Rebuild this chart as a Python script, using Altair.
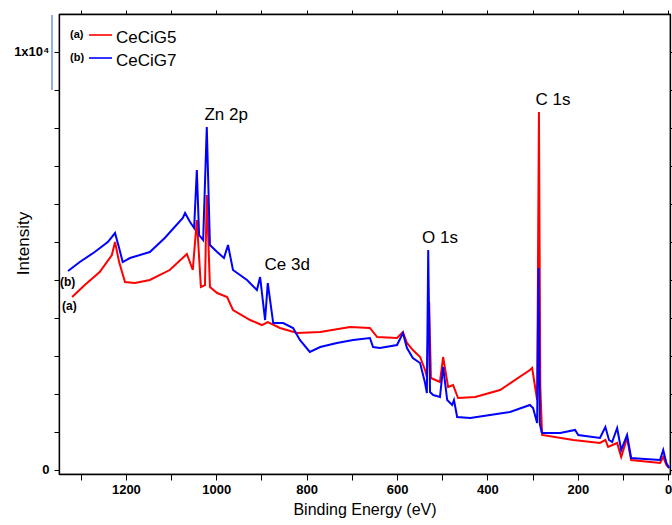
import altair as alt
import pandas as pd

# ---------------- data ----------------
series_names = ["CeCiG5", "CeCiG7"]
series_tags = ["(a)", "(b)"]
series_colors = ["#ff0000", "#0000ff"]

# (a) CeCiG5 - red
ev_a = [1319, 1291, 1258, 1231, 1224, 1215, 1202, 1180, 1147, 1103, 1065, 1052,
        1043, 1034, 1025, 1021, 1014, 998, 976, 963, 925, 899, 886, 859, 821,
        770, 704, 660, 644, 600, 587, 578, 565, 549, 538, 534, 529, 525, 505,
        498, 487, 476, 465, 427, 372, 306, 301, 290, 286, 283, 279, 210, 151,
        139, 133, 113, 104, 91, 82, 18, 11, 4, -2]
int_a = [4138, 4425, 4736, 5143, 5454, 4975, 4497, 4473, 4545, 4784, 5167, 4784,
         5980, 4377, 4425, 6578, 4377, 4234, 4138, 3827, 3588, 3468, 3540, 3397, 3277,
         3301, 3421, 3397, 3181, 3157, 3301, 3038, 2870, 2703, 2392, 2225, 4019, 2201, 2105,
         2703, 1985, 2033, 1722, 1746, 1914, 2392, 2440, 1674, 8563, 2000, 837, 718, 646,
         718, 550, 646, 311, 765, 239, 167, 311, 120, 48]

# (b) CeCiG7 - blue
ev_b = [1328, 1302, 1269, 1240, 1224, 1215, 1207, 1191, 1147, 1114, 1074, 1069,
        1058, 1049, 1043, 1038, 1029, 1021, 1014, 998, 983, 974, 963, 932, 910,
        903, 892, 886, 874, 852, 830, 815, 793, 770, 733, 697, 660, 653, 638,
        600, 587, 578, 565, 549, 538, 534, 531, 527, 520, 505, 498, 489, 478,
        474, 467, 438, 394, 350, 306, 299, 290, 287, 284, 280, 277, 239, 206,
        199, 151, 139, 131, 124, 113, 104, 91, 82, 51, 18, 11, 4, -2]
int_b = [4760, 4975, 5215, 5454, 5669, 5310, 4975, 5071, 5215, 5549, 6028, 6147,
         5932, 5789, 7176, 5621, 5502, 8205, 5382, 5215, 5071, 5382, 4784, 4545, 4306,
         4617, 3588, 4473, 3516, 3516, 3397, 3110, 2823, 2942, 3038, 3110, 3157, 2942, 2918,
         2990, 3277, 2918, 2679, 2559, 2081, 1842, 5262, 1866, 1794, 1746, 2464, 1674, 1555,
         1674, 1268, 1244, 1316, 1387, 1555, 1483, 1124, 4832, 1100, 900, 885, 885, 957,
         837, 765, 1029, 718, 670, 1005, 478, 837, 287, 263, 239, 478, 167, 48]

peak_labels = ["Zn 2p", "Ce 3d", "O 1s", "C 1s"]
peak_ev = [978, 843, 505, 255]
peak_int = [8372, 4784, 5430, 8731]

x_ticks = list(range(0, 1301, 100))
y_ticks = [i * 10000 / 11 for i in range(12)]

# ---------------- tables ----------------
rows = []
for name, evs, ints in [(series_names[0], ev_a, int_a), (series_names[1], ev_b, int_b)]:
    for i, (e, v) in enumerate(zip(evs, ints)):
        rows.append({"series": name, "ev": e, "intensity": v, "idx": i})
df = pd.DataFrame(rows)
peaks = pd.DataFrame({"label": peak_labels, "ev": peak_ev, "intensity": peak_int})

FONT = "Liberation Sans, Arial, Helvetica, sans-serif"

xscale = alt.Scale(domain=[-4, 1348], reverse=True, nice=False, zero=False)
yscale = alt.Scale(domain=[-96, 10909], nice=False, zero=False)

lines = alt.Chart(df).mark_line(strokeWidth=2, clip=True).encode(
    x=alt.X("ev:Q", scale=xscale,
            axis=alt.Axis(orient="bottom", values=x_ticks, format="d",
                          labelExpr="datum.value % 200 == 0 ? datum.label : ''",
                          title="Binding Energy (eV)", grid=False,
                          tickSize=6, labelPadding=3, titlePadding=5,
                          labelFontWeight="bold", labelFontSize=13,
                          titleFontSize=16, titleFontWeight="normal")),
    y=alt.Y("intensity:Q", scale=yscale,
            axis=alt.Axis(orient="left", values=y_ticks,
                          labelExpr="datum.value == 0 ? '0' : (abs(datum.value - 10000) < 1 ? '1x10⁴' : '')",
                          title="Intensity", grid=False, tickSize=5, labelPadding=5,
                          labelFontWeight="bold", labelFontSize=13,
                          titleFontSize=17, titleFontWeight="normal",
                          titleX=-27, titleY=229)),
    color=alt.Color("series:N", scale=alt.Scale(domain=series_names, range=series_colors), legend=None),
    order=alt.Order("idx:Q"),
)

frame_axes = alt.Chart(df).mark_point(opacity=0).encode(
    x=alt.X("ev:Q", scale=xscale,
            axis=alt.Axis(orient="top", values=x_ticks, labels=False, title=None,
                          grid=False, tickSize=4)),
    y=alt.Y("intensity:Q", scale=yscale,
            axis=alt.Axis(orient="right", values=y_ticks, labels=False, title=None,
                          grid=False, tickSize=2)),
)

peak_text = alt.Chart(peaks).mark_text(fontSize=17, font=FONT, color="black",
                                       baseline="alphabetic", align="center").encode(
    x=alt.X("ev:Q", scale=xscale, axis=None),
    y=alt.Y("intensity:Q", scale=yscale, axis=None),
    text="label:N",
)

# legend (top-left, inside the frame)
leg_layers = []
for k, (tag, name, col) in enumerate(zip(series_tags, series_names, series_colors)):
    yb = 29 + 23 * k
    one = pd.DataFrame({"t": [tag]})
    leg_layers.append(alt.Chart(one).mark_text(fontSize=11, fontWeight="bold", font=FONT,
                                               align="left", baseline="alphabetic", color="black").encode(
        x=alt.value(11), y=alt.value(yb - 5), text="t:N"))
    leg_layers.append(alt.Chart(one).mark_rule(color=col, strokeWidth=1.6).encode(
        x=alt.value(30), x2=alt.value(53), y=alt.value(yb - 8)))
    leg_layers.append(alt.Chart(pd.DataFrame({"t": [name]})).mark_text(
        fontSize=17, font=FONT, align="left", baseline="alphabetic", color="black").encode(
        x=alt.value(57), y=alt.value(yb), text="t:N"))

# curve tags next to the start of each curve
tag_layers = []
for tag, ypos in zip(series_tags[::-1], [272, 296]):
    tag_layers.append(alt.Chart(pd.DataFrame({"t": [tag]})).mark_text(
        fontSize=12, fontWeight="bold", font=FONT, align="left", baseline="alphabetic",
        color="black").encode(x=alt.value(1 if tag == "(b)" else 3), y=alt.value(ypos), text="t:N"))

artifact = alt.Chart(pd.DataFrame({"t": [0]})).mark_rule(color="#7393e0", strokeWidth=1.5).encode(
    x=alt.value(-7), y=alt.value(1), y2=alt.value(76))

chart = alt.layer(lines, frame_axes, peak_text, artifact, *leg_layers, *tag_layers).resolve_axis(
    x="independent", y="independent"
).properties(
    width=611, height=460,
    padding={"left": 59, "top": 14, "right": 2, "bottom": 51},
    autosize=alt.AutoSizeParams(type="none"),
    background="white",
).configure_view(
    stroke="black", strokeWidth=1.2
).configure_axis(
    domainColor="black", tickColor="black", labelColor="black", titleColor="black",
    domainWidth=1.3, tickWidth=1, labelFont=FONT, titleFont=FONT,
)

chart.save("out.html", embed_options={"renderer": "svg", "actions": False})
